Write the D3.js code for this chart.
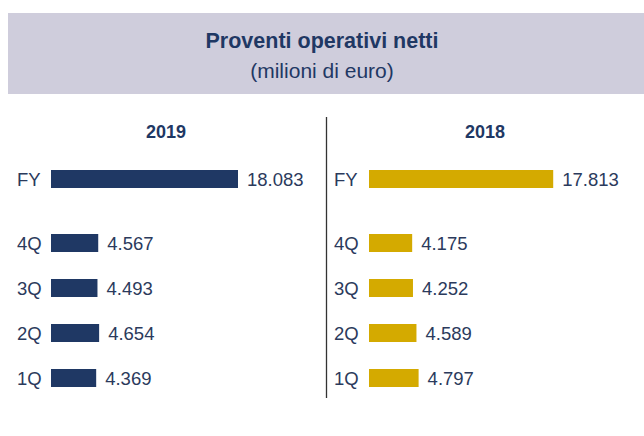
<!DOCTYPE html>
<html><head><meta charset="utf-8">
<script src="https://cdn.jsdelivr.net/npm/d3@7"></script>
<style>body{margin:0;background:#fff}svg{display:block;font-family:"Liberation Sans",Arial,sans-serif}</style>
</head><body>
<script>
const title = "Proventi operativi netti";
const subtitle = "(milioni di euro)";
const years = ["2019", "2018"];
const fyLabel = "FY";
const quarters = ["4Q", "3Q", "2Q", "1Q"];
const fy2019 = 18083;
const fy2018 = 17813;
const q2019 = [4567, 4493, 4654, 4369];
const q2018 = [4175, 4252, 4589, 4797];
const colors = ["#1f3864", "#d4aa00"];

const W = 644, H = 436;
const svg = d3.select("body").append("svg").attr("width", W).attr("height", H);

svg.append("rect").attr("x", 8).attr("y", 13).attr("width", W - 8).attr("height", 81).attr("fill", "#cfcddc");
svg.append("text").attr("x", 322).attr("y", 48).attr("text-anchor", "middle")
  .attr("font-size", 21.5).attr("font-weight", "bold").attr("fill", "#1f3864").text(title);
svg.append("text").attr("x", 322).attr("y", 78).attr("text-anchor", "middle")
  .attr("font-size", 21).attr("fill", "#1f3864").text(subtitle);

// divider
svg.append("line").attr("x1", 326.5).attr("x2", 326.5).attr("y1", 117).attr("y2", 398)
  .attr("stroke", "#333").attr("stroke-width", 1.3);

const fmt = v => d3.format(",")(v).replace(/,/g, ".");
const x = d3.scaleLinear().domain([0, 18083]).range([0, 187]);
const yQ = d3.scalePoint().domain(quarters).range([243, 378]);
const fyY = 179;
const barH = 18;

const panels = [
  {year: years[0], fy: fy2019, q: q2019, color: colors[0], left: 17, barX: 51, cx: 166},
  {year: years[1], fy: fy2018, q: q2018, color: colors[1], left: 334, barX: 369, cx: 485}
];

panels.forEach(p => {
  const g = svg.append("g");
  g.append("text").attr("x", p.cx).attr("y", 138).attr("text-anchor", "middle")
    .attr("font-size", 18).attr("font-weight", "bold").attr("fill", "#1f3864").text(p.year);
  const rows = [{cat: fyLabel, v: p.fy, y: fyY}].concat(quarters.map((c, i) => ({cat: c, v: p.q[i], y: yQ(c)})));
  g.selectAll("rect.bar").data(rows).join("rect").attr("class", "bar")
    .attr("x", p.barX).attr("y", d => d.y - barH / 2).attr("width", d => x(d.v)).attr("height", barH)
    .attr("fill", p.color);
  g.selectAll("text.cat").data(rows).join("text").attr("class", "cat")
    .attr("x", p.left).attr("y", d => d.y + 6.5).attr("font-size", 18.5).attr("fill", "#2b3a5c").text(d => d.cat);
  g.selectAll("text.val").data(rows).join("text").attr("class", "val")
    .attr("x", d => p.barX + x(d.v) + 9).attr("y", d => d.y + 6.5).attr("font-size", 18.5).attr("fill", "#2b3a5c")
    .text(d => fmt(d.v));
});
</script>
</body></html>
